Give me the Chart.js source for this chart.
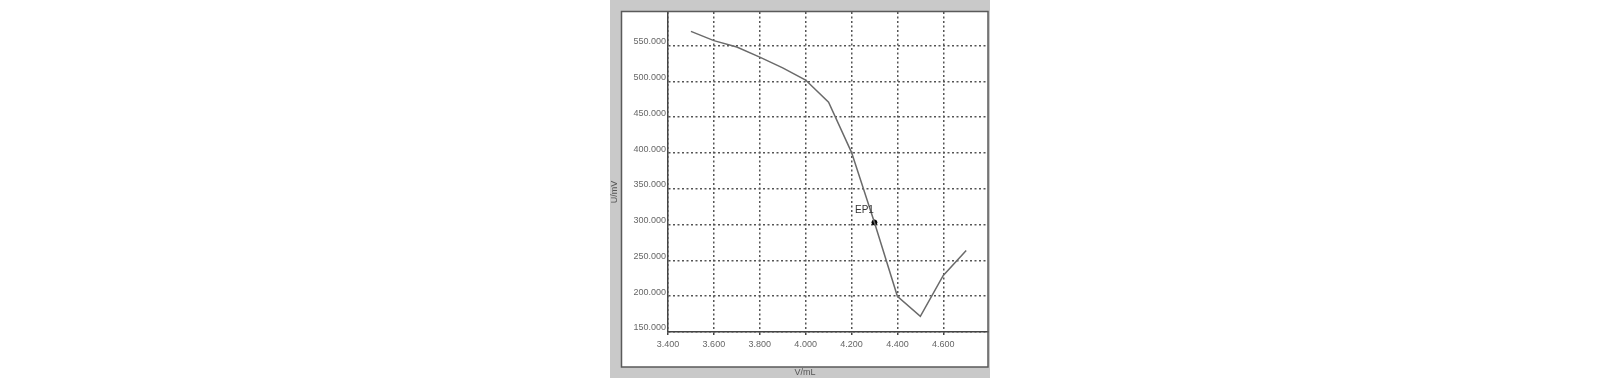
<!DOCTYPE html>
<html>
<head>
<meta charset="utf-8">
<script src="https://cdn.jsdelivr.net/npm/chart.js@4"></script>
<style>
  body { margin: 0; background: #fff; }
  canvas { display: block; }
</style>
</head>
<body>
<canvas id="titration" width="1600" height="381"></canvas>
<script>
// titration curve, volume (mL) vs potential (mV)
var volumes = [3.5, 3.6, 3.7, 3.8, 3.9, 4.0, 4.1, 4.2, 4.3, 4.4, 4.5, 4.6, 4.7];
var potentials = [570, 557, 548, 534, 519, 502, 471, 401, 303, 200, 172, 229, 264];
var xTicks = [3.4, 3.6, 3.8, 4.0, 4.2, 4.4, 4.6];
var yTicks = [150, 200, 250, 300, 350, 400, 450, 500, 550];
var epLabel = 'EP1';
var epVolume = 4.3;
var epPotential = 303;

Chart.defaults.font.family = 'Arial, "Liberation Sans", sans-serif';

var curve = volumes.map(function (v, i) { return { x: v, y: potentials[i] }; });

// grey window frame + labels that sit outside the axes
var frame = {
    id: 'frame',
    beforeDraw: function (chart) {
        var c = chart.ctx;
        c.save();
        c.fillStyle = '#c9c9c9';
        c.fillRect(610, 0, 380, 378);
        c.fillStyle = '#ffffff';
        c.fillRect(621, 11, 367, 356);
        c.restore();
    },
    afterDraw: function (chart) {
        var c = chart.ctx;
        c.save();
        c.strokeStyle = '#5a5a5a';
        c.lineWidth = 1.5;
        c.strokeRect(621.5, 11.5, 366.5, 355.5);

        c.fillStyle = '#555';
        c.font = '9px Arial, "Liberation Sans", sans-serif';
        c.textAlign = 'center';
        c.textBaseline = 'middle';
        c.fillText('V/mL', 805, 373);
        c.translate(615, 192);
        c.rotate(-Math.PI / 2);
        c.fillText('U/mV', 0, 0);
        c.restore();

        var xs = chart.scales.x, ys = chart.scales.y;
        c.save();
        c.fillStyle = '#333';
        c.font = '10px Arial, "Liberation Sans", sans-serif';
        c.textAlign = 'center';
        c.textBaseline = 'middle';
        c.fillText(epLabel, xs.getPixelForValue(epVolume) - 10, ys.getPixelForValue(epPotential) - 12);
        c.restore();
    }
};

new Chart(document.getElementById('titration').getContext('2d'), {
    type: 'scatter',
    data: {
        datasets: [
            {
                data: curve,
                showLine: true,
                tension: 0,
                borderColor: '#6a6a6a',
                borderWidth: 1.5,
                pointRadius: 0
            },
            {
                data: [{ x: epVolume, y: epPotential }],
                showLine: false,
                pointRadius: 2.5,
                pointBackgroundColor: '#000',
                pointBorderColor: '#000'
            }
        ]
    },
    options: {
        responsive: false,
        animation: false,
        layout: { padding: { left: 610, right: 612, top: 12, bottom: 19 } },
        plugins: {
            legend: { display: false },
            tooltip: { enabled: false }
        },
        scales: {
            x: {
                type: 'linear',
                min: 3.4,
                max: 4.795,
                afterBuildTicks: function (scale) {
                    scale.ticks = xTicks.map(function (v) { return { value: v }; });
                },
                afterFit: function (scale) { scale.height = 30; },
                grid: {
                    color: '#555',
                    lineWidth: 1.5,
                    tickLength: 3,
                    tickColor: '#444',
                    tickBorderDash: []
                },
                border: { display: true, color: '#444', width: 1.5, dash: [2, 2.5] },
                ticks: {
                    color: '#666',
                    font: { size: 9 },
                    padding: 4,
                    maxRotation: 0,
                    callback: function (v) { return Number(v).toFixed(3); }
                }
            },
            y: {
                type: 'linear',
                min: 150,
                max: 597,
                afterBuildTicks: function (scale) {
                    scale.ticks = yTicks.map(function (v) { return { value: v }; });
                },
                afterFit: function (scale) { scale.width = 58; },
                grid: {
                    color: '#555',
                    lineWidth: 1.5,
                    drawTicks: false
                },
                border: { display: true, color: '#444', width: 1.5, dash: [2, 2.5] },
                ticks: {
                    color: '#666',
                    font: { size: 9 },
                    padding: 2,
                    labelOffset: -4,
                    callback: function (v) { return Number(v).toFixed(3); }
                }
            }
        }
    },
    plugins: [frame]
});
</script>
</body>
</html>
